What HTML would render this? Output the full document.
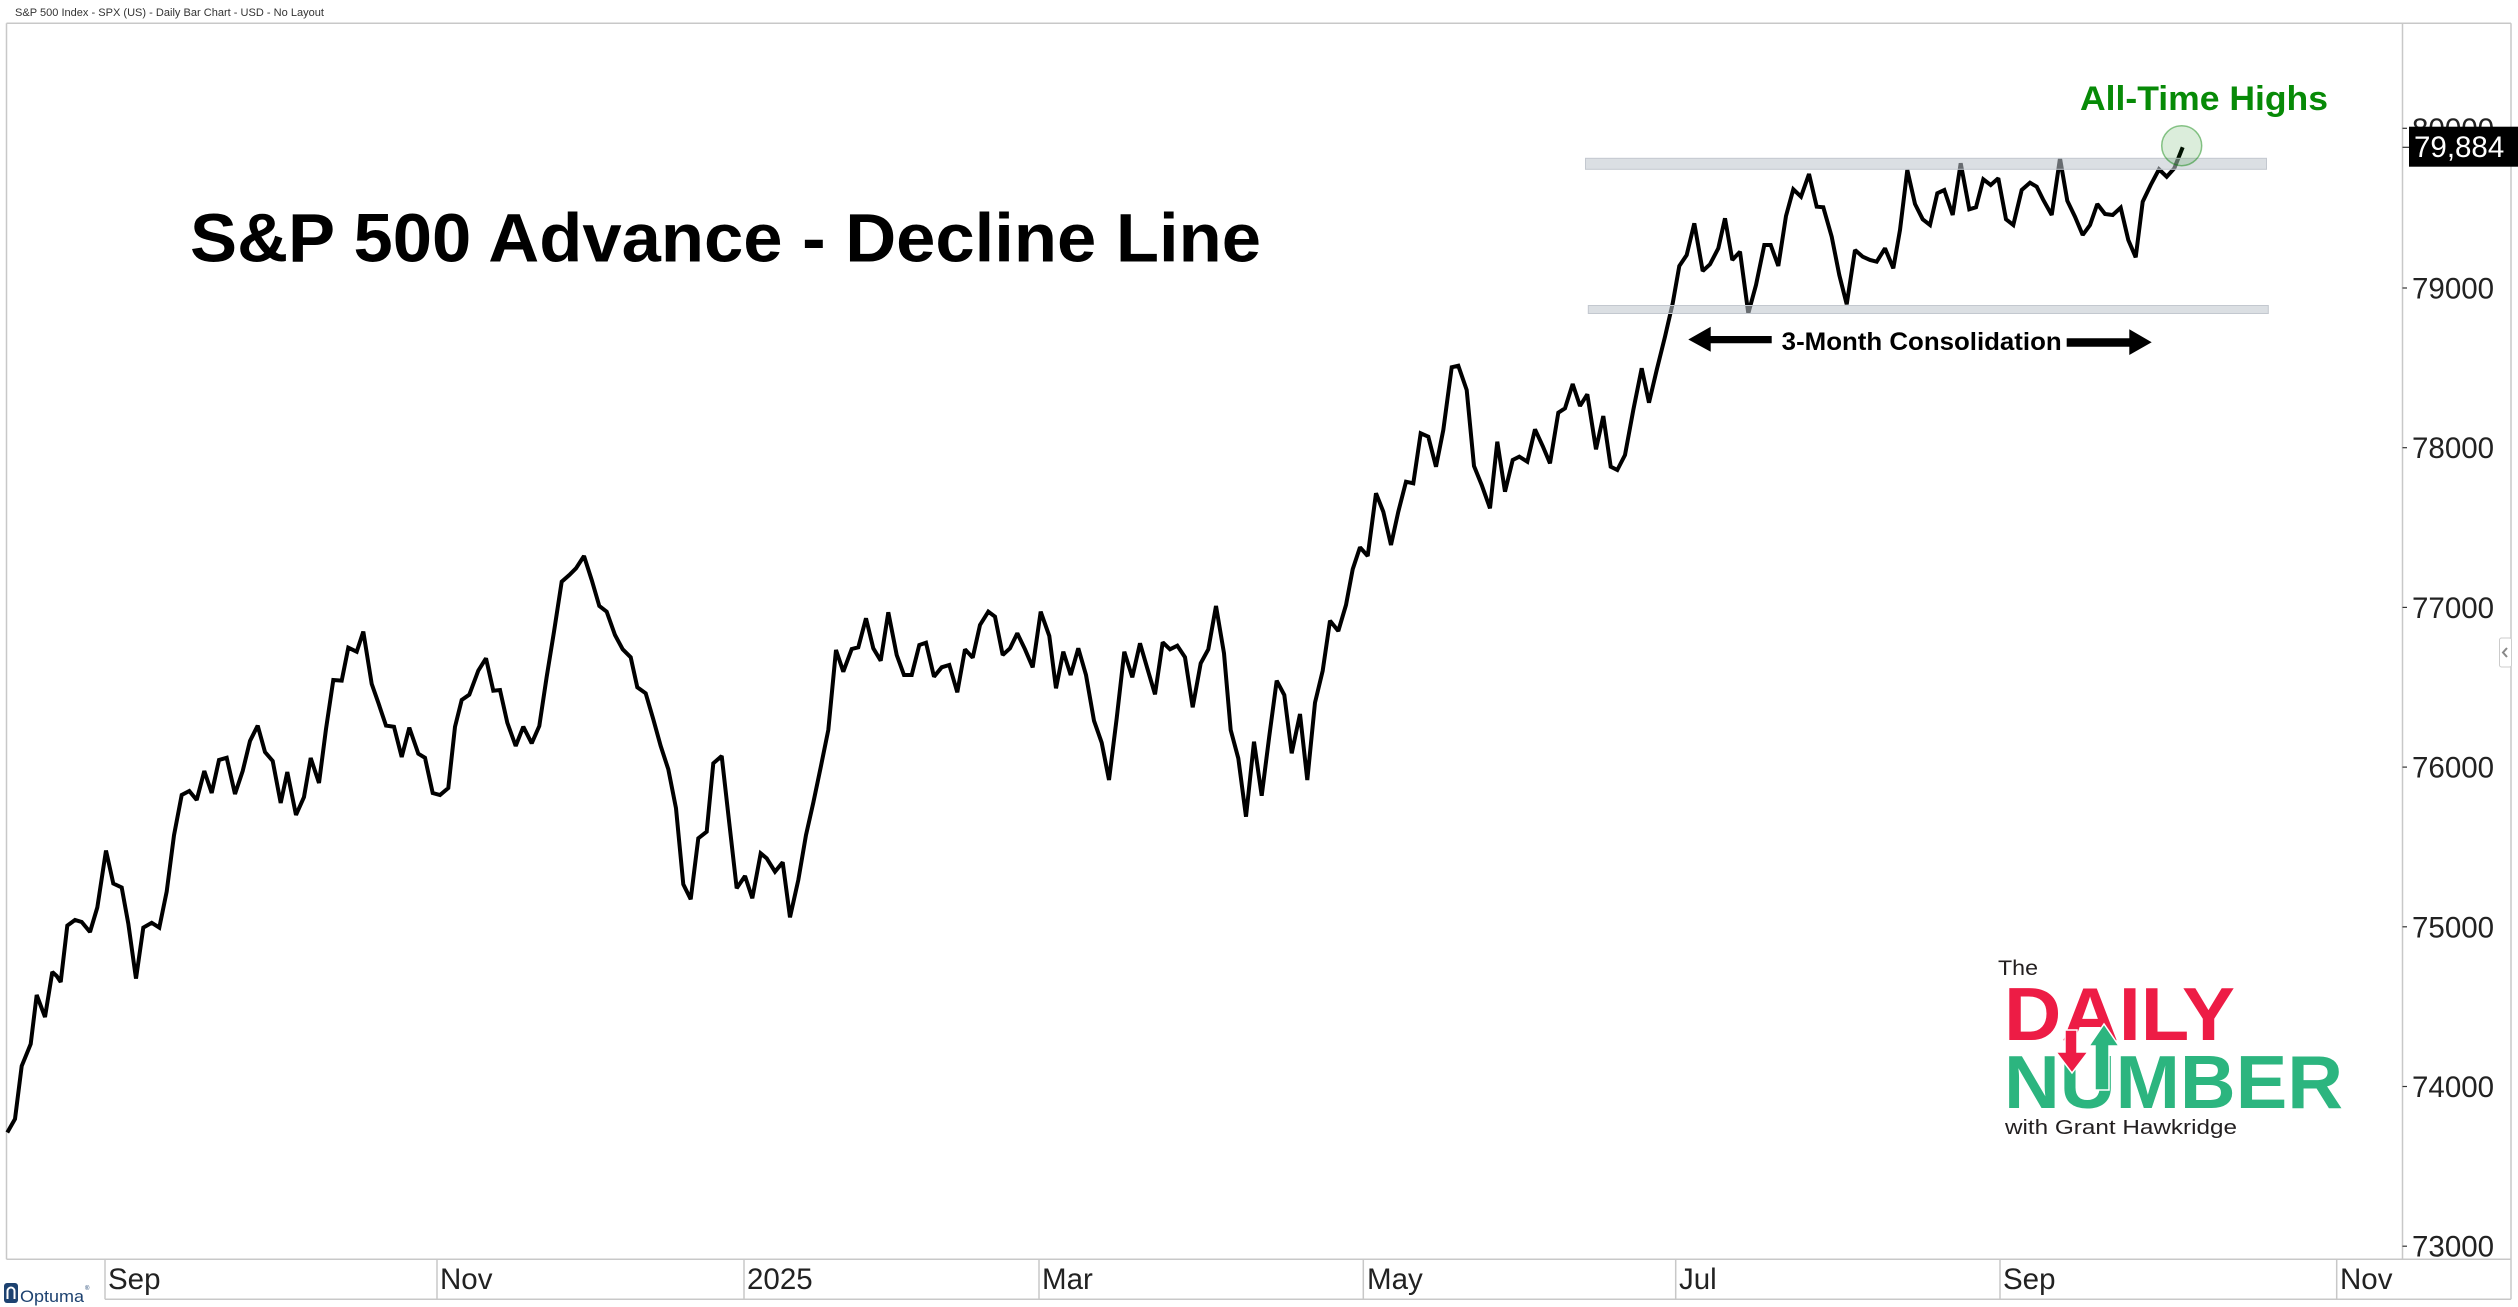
<!DOCTYPE html>
<html>
<head>
<meta charset="utf-8">
<style>
  html,body{margin:0;padding:0;background:#fff;}
  svg{display:block;}
  text{font-family:"Liberation Sans",Arial,sans-serif;}
</style>
</head>
<body>
<svg width="2518" height="1307" viewBox="0 0 2518 1307" xmlns="http://www.w3.org/2000/svg">
  <rect x="0" y="0" width="2518" height="1307" fill="#fff"/>

  <!-- header -->
  <text x="15" y="16" font-size="11" fill="#333" textLength="309" lengthAdjust="spacingAndGlyphs">S&amp;P 500 Index - SPX (US) - Daily Bar Chart - USD - No Layout</text>

  <!-- frame -->
  <g stroke="#c8c8c8" stroke-width="1.5" fill="none">
    <line x1="6.5" y1="23.3" x2="2511" y2="23.3"/>
    <line x1="6.5" y1="23.3" x2="6.5" y2="1259.3"/>
    <line x1="2511" y1="23.3" x2="2511" y2="1299.3"/>
    <line x1="2402.5" y1="23.3" x2="2402.5" y2="1259.3"/>
    <line x1="6.5" y1="1259.3" x2="2511" y2="1259.3"/>
    <line x1="105" y1="1299.3" x2="2511" y2="1299.3"/>
    <line x1="105" y1="1259.3" x2="105" y2="1299.3"/>
    <line x1="437" y1="1259.3" x2="437" y2="1299.3"/>
    <line x1="744" y1="1259.3" x2="744" y2="1299.3"/>
    <line x1="1039" y1="1259.3" x2="1039" y2="1299.3"/>
    <line x1="1363.3" y1="1259.3" x2="1363.3" y2="1299.3"/>
    <line x1="1675.7" y1="1259.3" x2="1675.7" y2="1299.3"/>
    <line x1="2000" y1="1259.3" x2="2000" y2="1299.3"/>
    <line x1="2336.7" y1="1259.3" x2="2336.7" y2="1299.3"/>
  </g>

  <!-- x labels -->
  <g font-size="29.5" fill="#222">
    <text x="108" y="1289">Sep</text>
    <text x="440" y="1289">Nov</text>
    <text x="747" y="1289">2025</text>
    <text x="1042" y="1289">Mar</text>
    <text x="1367" y="1289">May</text>
    <text x="1679" y="1289">Jul</text>
    <text x="2003" y="1289">Sep</text>
    <text x="2340" y="1289">Nov</text>
  </g>

  <!-- y ticks -->
  <g stroke="#333" stroke-width="1.2">
    <line x1="2402.5" y1="128.3" x2="2407" y2="128.3"/>
    <line x1="2402.5" y1="288" x2="2407" y2="288"/>
    <line x1="2402.5" y1="447.7" x2="2407" y2="447.7"/>
    <line x1="2402.5" y1="607.4" x2="2407" y2="607.4"/>
    <line x1="2402.5" y1="767.1" x2="2407" y2="767.1"/>
    <line x1="2402.5" y1="926.8" x2="2407" y2="926.8"/>
    <line x1="2402.5" y1="1086.5" x2="2407" y2="1086.5"/>
    <line x1="2402.5" y1="1246.2" x2="2407" y2="1246.2"/>
    <line x1="2402.5" y1="147.3" x2="2410" y2="147.3"/>
  </g>
  <g font-size="29.5" fill="#222">
    <text x="2412" y="139">80000</text>
    <text x="2412" y="298.5">79000</text>
    <text x="2412" y="458.2">78000</text>
    <text x="2412" y="617.9">77000</text>
    <text x="2412" y="777.6">76000</text>
    <text x="2412" y="937.3">75000</text>
    <text x="2412" y="1097">74000</text>
    <text x="2412" y="1256.7">73000</text>
  </g>
  <!-- last value box -->
  <rect x="2409" y="126.7" width="110" height="40" fill="#000"/>
  <text x="2414" y="157" font-size="29.5" fill="#fff">79,884</text>

  <!-- side handle -->
  <rect x="2499.5" y="638" width="12" height="29" rx="2" fill="#fff" stroke="#ccc" stroke-width="1"/>
  <polyline points="2507,648 2503,652.5 2507,657" fill="none" stroke="#888" stroke-width="2"/>

  <!-- title -->
  <text x="190" y="261.7" font-size="69" font-weight="bold" fill="#000" textLength="1071" lengthAdjust="spacingAndGlyphs">S&amp;P 500 Advance - Decline Line</text>

  <!-- main line -->
  <polyline fill="none" stroke="#000" stroke-width="4" stroke-linejoin="miter" stroke-miterlimit="2" points="
7.3,1132.5 15,1119 21.7,1066 25,1058 30.7,1044 36.7,995 45,1017 52.3,972 56.7,976 60.7,982 67.3,925.6 75,920 81.7,922 90,932 97.3,907.5 106,850.5 113.3,883.5 121.7,887.5 128.3,923.6 136,978.6 143.3,927.6 151.7,922.8 159.3,927.6 166.7,891.5 174,835.3 181.7,795 189.3,791 196.7,800 204.3,771 211.7,793 219,760 226.7,757.8 235,794 242.7,771 250,741 257.7,725.6 265,752 272.7,761 280.7,803 287.3,772 296,815 304,797 310.7,758 319,783 326,729 333.3,680 341.7,680.6 348.3,647.7 356.7,651.7 363.3,631.6 371.7,683.9 378.3,702.7 386,725.6 394,726.8 401.7,757 409.3,727.6 418.3,753.7 425,757.8 432.7,793 440,795 448.3,788 455,726.8 461.7,700 469.3,694.7 478.3,670.6
486,658.3 493.3,690.7 500,690 507.3,722.7 515.7,746 523.3,726.7 531.7,743.3 539.3,726 546.7,676.7 554,631.7 561.7,581.7 569.3,575 576,568.3 584,556 591.7,580 599.3,606 606.7,611.7 615,635 622.7,649.3 630.7,657.3 637.3,687.3 645.7,693.3 653.3,719.3 660.7,746 668.3,769.3 676,808.3 683.3,884.3 690.7,899.3 698.3,838.3 706.7,831.7 713.3,763.3 721.7,756 729.3,823.3 736.7,888.3 745,876 752.3,898.3 760.7,853.3 766.7,858.3 775,871.7 782.7,862.3 790,917.3 798.3,880 806,835 813.3,802.7 820.7,767.3 828.3,730 836,650 843.3,671.7 851.7,649 858.3,647.3 866,618.3 873.3,648.3 880.7,660.7 888.3,612.3 896.7,655 904,675 911.7,675 919.3,645 926,642.7 934,676.7 941.7,667.3 949.3,665 957.3,692.3 965,649.3 972.7,657.7 980,625 988.3,611.7
995,616.7 1002.7,655 1010,648.3 1017.3,633.3 1025,649.3 1032.7,667.3 1040.7,611.7 1049.3,636 1056,688.3 1063.3,651.7 1070.7,675 1078.3,648.3 1086,675 1094,720.7 1101.7,742.7 1109,780 1116.7,718.3 1124.3,651.7 1132.3,677.3 1140,643.3 1147.3,668.3 1155,694.3 1162.7,642.3 1170,649.3 1177.3,645.7 1185,657.3 1192.7,707.3 1200.7,663.3 1208.3,649.3 1216,606 1224,653.3 1230.7,730 1238.3,758.3 1246,816.7 1254,741.7 1261.7,795.7 1269.3,736 1276.7,680.7 1284.3,695 1291.7,753.3 1300,714 1307.3,780 1315,702.7 1322.7,670.7 1330,620.7 1338.3,631 1346,605 1352.7,569.3 1360,547.3 1367.7,556 1376,493.3 1383.3,511.7 1391,545 1398.3,511.7 1406,481.7 1413.3,483.3 1420.7,433.3 1428.3,436.7 1436,466.7 1443.3,430 1451.7,367.3 1458.3,365.7 1466.7,390 1474,466 1481.7,485 1490,508.3 1497.3,441.7
1505,491.7 1512.7,460 1519.3,456.7 1527.3,461.7 1535,429.3 1542.7,446 1550,463.3 1558.3,412.7 1565,408.3 1572.7,384 1580,406 1587.3,394.3 1596,449.3 1603.3,416 1610.7,466.7 1617.3,470 1625,455 1633.3,410 1641.7,368.3 1649,402.7 1656.7,370 1665,336.7 1672.7,303.3 1679.3,266 1686.7,255 1694.3,223.3 1702.7,271 1710,264.3 1718.3,248.3 1725,218.3 1732.3,260 1740,251.7 1748.3,313.3 1756,285 1764.3,245 1770.7,245 1778.3,266 1786,216 1793.3,189.3 1801,196.7 1809,174 1816.7,206.7 1823.3,207.3 1831.7,236.7 1839.3,275 1846.7,304.3 1855,250 1862.7,256.7 1870,260 1876.7,261.7 1885,248.3 1893.3,268.3 1900,230 1907.3,170 1915,204 1922.7,219.3 1930,225 1937.3,193.3 1944.3,190 1952.7,215 1960.7,163.3 1969.3,209.3 1976,207.3 1983.3,179.3 1990.7,185 1998.3,178.3 2006,219.3 2013.3,225
2021.7,190 2030,182.7 2036.7,186.7 2043.3,200 2051.7,215 2060,158.3 2067.3,200.7 2075,216.7 2082.7,235 2090,225 2097.3,204 2105,214 2112.7,215 2120.7,207.7 2128.3,240 2135.7,257.3 2142.7,201.7 2150.7,185 2159,169.3 2166.7,176.7 2174.3,168.3 2182.7,147.3"/>

  <!-- consolidation bands -->
  <rect x="1585.5" y="158.3" width="681" height="11" fill="rgb(190,196,204)" fill-opacity="0.55" stroke="#c3c8cf" stroke-width="1"/>
  <rect x="1588.3" y="305.5" width="680" height="8" fill="rgb(190,196,204)" fill-opacity="0.55" stroke="#c3c8cf" stroke-width="1"/>

  <!-- circle -->
  <circle cx="2181.7" cy="145.7" r="20" fill="rgba(0,128,0,0.14)" stroke="rgba(0,128,0,0.45)" stroke-width="1.5"/>

  <!-- All-Time Highs -->
  <text x="2080" y="110" font-size="34" font-weight="bold" fill="#078a07" textLength="248" lengthAdjust="spacingAndGlyphs">All-Time Highs</text>

  <!-- 3-Month Consolidation arrows -->
  <polygon points="1688.3,339.5 1710.7,326.7 1710.7,336 1771.7,336 1771.7,343.3 1710.7,343.3 1710.7,351.7" fill="#000"/>
  <text x="1781.7" y="350" font-size="25" font-weight="bold" fill="#000" textLength="280" lengthAdjust="spacingAndGlyphs">3-Month Consolidation</text>
  <polygon points="2066.7,338.3 2129.3,338.3 2129.3,329.3 2151.7,342.3 2129.3,355 2129.3,346.7 2066.7,346.7" fill="#000"/>

  <!-- Daily Number logo -->
  <text x="1998" y="975" font-size="21" fill="#231f20" textLength="40" lengthAdjust="spacingAndGlyphs">The</text>
  <text x="2004" y="1040" font-size="75" font-weight="bold" fill="#ed1c45" textLength="231" lengthAdjust="spacingAndGlyphs">DAILY</text>
  <text x="2004" y="1108" font-size="75" font-weight="bold" fill="#2cb57f" textLength="339" lengthAdjust="spacingAndGlyphs">NUMBER</text>
  <polygon points="2065,1030 2077,1030 2077,1052 2088,1052 2072,1073 2056,1052 2065,1052" fill="#ed1c45" stroke="#fff" stroke-width="1.5"/>
  <polygon points="2095,1090 2109,1090 2109,1046 2119,1046 2104,1024 2089,1046 2095,1046" fill="#2cb57f" stroke="#fff" stroke-width="1.5"/>
  <text x="2005" y="1134" font-size="20" fill="#231f20" textLength="232" lengthAdjust="spacingAndGlyphs">with Grant Hawkridge</text>

  <!-- Optuma logo -->
  <rect x="4" y="1283" width="14" height="20" rx="3" fill="#1d4270"/>
  <path d="M7.5,1299 L7.5,1291 A3.5,3.5 0 0 1 14.5,1291 L14.5,1299" fill="none" stroke="#fff" stroke-width="2"/>
  <text x="20" y="1302" font-size="17" fill="#1d4270" textLength="64" lengthAdjust="spacingAndGlyphs">Optuma</text>
  <text x="85" y="1290" font-size="6" fill="#1d4270">®</text>
</svg>
</body>
</html>
